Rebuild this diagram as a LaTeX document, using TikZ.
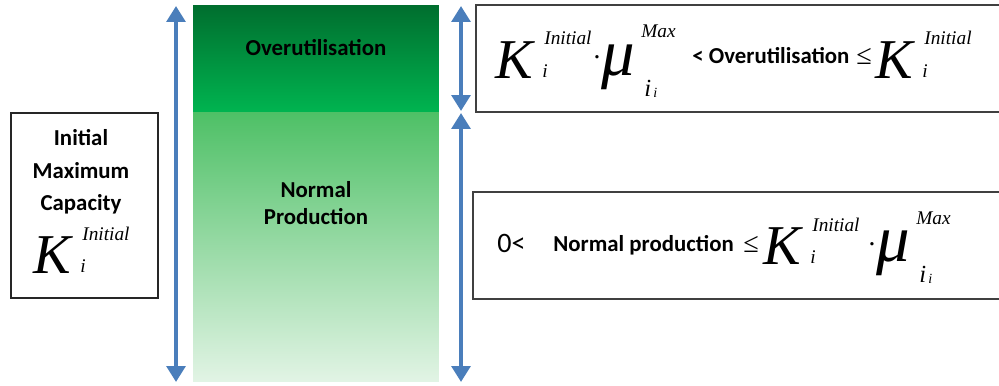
\documentclass[tikz,border=0pt]{standalone}
\usepackage{fontspec}
\setmainfont{Carlito}
\newfontfamily\eqfont{Liberation Serif}
\usetikzlibrary{arrows.meta,positioning}

\definecolor{spanblue}{RGB}{74,126,187}
\definecolor{overtop}{RGB}{0,110,46}
\definecolor{overbot}{RGB}{0,180,80}
\definecolor{normtop}{RGB}{78,192,102}
\definecolor{normbot}{RGB}{226,244,229}

\tikzset{
  band/.style={inner sep=0pt, minimum width=4.92cm},
  capbox/.style={draw=black!85, line width=0.9pt, inner sep=0pt},
  eqbox/.style={draw=black!75, line width=1.1pt, inner sep=0pt, minimum height=2.14cm},
  lbl/.style={font=\bfseries\fontsize{13}{18.5}\selectfont, align=center},
  eqlbl/.style={font=\bfseries\fontsize{13}{15}\selectfont, anchor=base west, inner sep=0pt},
  zerolbl/.style={font=\fontsize{16}{16}\selectfont, anchor=base west, inner sep=0pt},
  bigsym/.style={font=\eqfont\itshape\fontsize{32}{32}\selectfont, anchor=base west, inner sep=0pt},
  musym/.style={font=\eqfont\itshape\fontsize{38}{38}\selectfont, anchor=base west, inner sep=0pt},
  supsym/.style={font=\eqfont\itshape\fontsize{11}{11}\selectfont, anchor=base west, inner sep=0pt},
  subsym/.style={font=\eqfont\itshape\fontsize{14}{14}\selectfont, anchor=base west, inner sep=0pt},
  tinysym/.style={font=\eqfont\itshape\fontsize{8}{8}\selectfont, anchor=base west, inner sep=0pt},
  dotsym/.style={font=\eqfont\fontsize{16}{16}\selectfont, anchor=base, inner sep=0pt},
  leqsym/.style={font=\eqfont\fontsize{16}{16}\selectfont, anchor=base west, inner sep=0pt},
  span/.style={spanblue, line width=2.3pt,
    {Triangle[width=10.5pt,length=9pt]}-{Triangle[width=10.5pt,length=9pt]}},
}

% K_i^Initial at (x, baseline)
\newcommand{\kterm}[3]{%
  \node[bigsym] (#1) at (#2,#3) {K};
  \node[supsym] (#1-sup) at ({#2+49},{#3-33}) {Initial};
  \node[supsym] (#1-sub) at ({#2+47},{#3-1}) {i};
}
% . mu_{i_i}^Max at (x, baseline)
\newcommand{\muterm}[3]{%
  \node[dotsym] (#1-dot) at ({#2-4},{#3-8}) {·};
  \node[musym] (#1) at (#2,#3) {μ};
  \node[supsym] (#1-sup) at ({#2+40},{#3-37}) {Max};
  \node[subsym] (#1-sub) at ({#2+43},{#3+21}) {i};
  \node[tinysym] (#1-subsub) at ({#2+52},{#3+22}) {i};
}

\begin{document}
\begin{tikzpicture}[x=0.02cm, y=-0.02cm]
  \clip (0,0) rectangle (999,385);

  % Bands
  \node[band, minimum height=2.14cm, top color=overtop, bottom color=overbot]
    (over) at (316,58.5) {};
  \node[band, minimum height=5.4cm, top color=normtop, bottom color=normbot]
    (norm) at (316,247) {};
  \node[lbl] (overtxt) at (316,48) {Overutilisation};
  \node[lbl, font=\bfseries\fontsize{13}{15.5}\selectfont] (normtxt) at (316,203) {Normal\\Production};

  % Spans
  \coordinate (lt) at (176,6);
  \coordinate (lb) at (176,382);
  \coordinate (rt) at (461,6);
  \coordinate (rm) at (461,111);
  \coordinate (rn) at (461,113);
  \coordinate (rb) at (461,382);
  \draw[span] (lt) -- (lb);
  \draw[span] (rt) -- (rm);
  \draw[span] (rn) -- (rb);

  % Capacity box
  \node[capbox, minimum width=2.94cm, minimum height=3.7cm] (capacity) at (84.5,205.5) {};
  \node[lbl] (captxt) at (81,172) {Initial\\Maximum\\Capacity};
  \kterm{kL}{33}{273}

  % Overutilisation bound
  \node[eqbox, minimum width=10.58cm] (overbox) at (740.5,58.5) {};
  \kterm{kA}{495}{78}
  \muterm{muA}{601}{75}
  \node[eqlbl] (overlt) at (692,64) {< Overutilisation};
  \node[leqsym] (leqA) at (856,65) {≤};
  \kterm{kB}{875}{78}

  % Normal production bound
  \node[eqbox, minimum width=10.64cm] (normbox) at (739,245.5) {};
  \node[zerolbl] (zero) at (497,252) {0<};
  \node[eqlbl] (normlt) at (553,251) {Normal production};
  \node[leqsym] (leqB) at (743,252) {≤};
  \kterm{kC}{763}{264}
  \muterm{muC}{876}{261}
\end{tikzpicture}
\end{document}
